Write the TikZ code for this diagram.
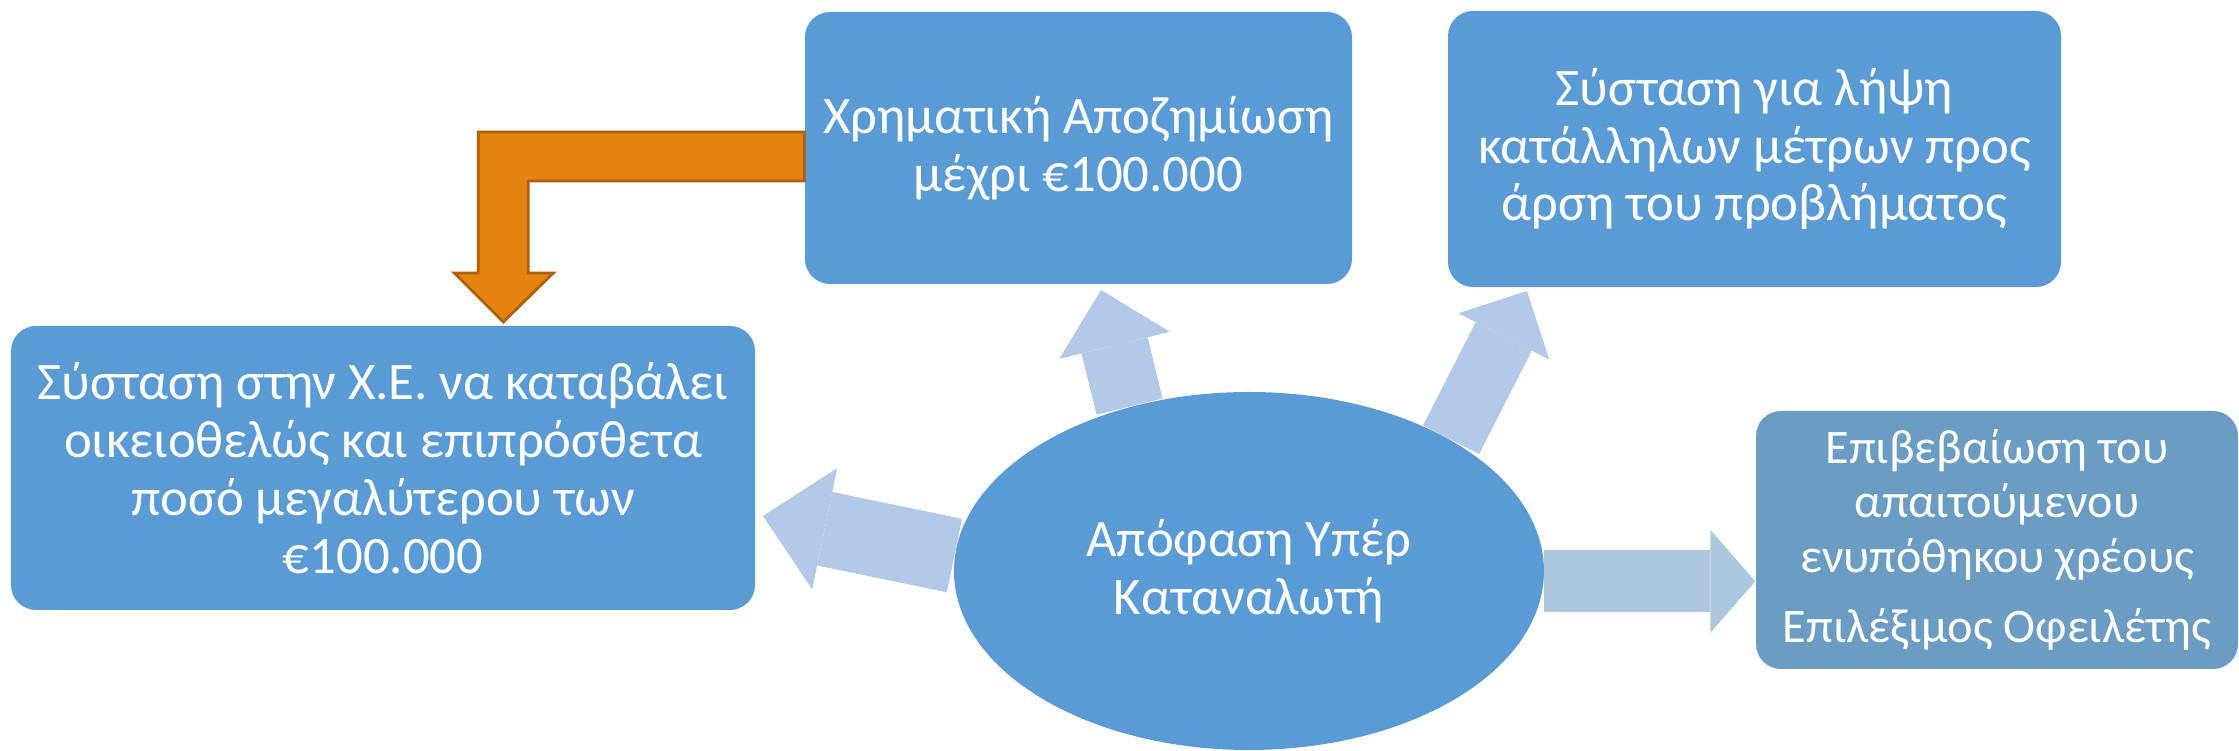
\documentclass[tikz,border=0pt]{standalone}
\usepackage{fontspec}
\setmainfont{Carlito}
\usetikzlibrary{shapes.geometric,arrows.meta,backgrounds}
\definecolor{boxblue}{HTML}{5B9BD5}
\definecolor{greyblue}{HTML}{6A9CC4}
\definecolor{paleblue}{HTML}{B4C9E7}
\definecolor{palegrey}{HTML}{ADC8DE}
\definecolor{orangefill}{HTML}{E48212}
\definecolor{orangeline}{HTML}{B0600C}
\begin{document}
\begin{tikzpicture}[
  box/.style={rectangle, rounded corners=0.25cm, fill=boxblue, text=white, align=center, inner sep=0pt, font=\fontsize{15}{16.5}\selectfont},
  fat/.style n args={3}{color=paleblue, line width=#1, -{Triangle[width=#2,length=#3,line width=0pt]}},
  bent/.style={fill=orangefill, draw=orangeline, line width=0.8pt}
]
\useasboundingbox (0,0) rectangle (22.39,7.51);
% the five boxes
\node[box, minimum width=7.44cm, minimum height=2.84cm] (offer) at (3.83,2.83) {Σύσταση στην Χ.Ε. να καταβάλει\\ οικειοθελώς και επιπρόσθετα\\ ποσό μεγαλύτερου των\\ €100.000};
\node[box, minimum width=5.47cm, minimum height=2.72cm] (comp) at (10.785,6.03) {Χρηματική Αποζημίωση\\ μέχρι €100.000};
\node[box, minimum width=6.13cm, minimum height=2.76cm] (measures) at (17.545,6.02) {Σύσταση για λήψη\\ κατάλληλων μέτρων προς\\ άρση του προβλήματος};
\node[box, fill=greyblue, minimum width=4.82cm, minimum height=2.58cm, font=\fontsize{13.7}{15.5}\selectfont] (debt) at (19.97,2.11) {Επιβεβαίωση του\\ απαιτούμενου\\ ενυπόθηκου χρέους\\[4.5pt] Επιλέξιμος Οφειλέτης};
\node[box, ellipse, minimum width=5.9cm, minimum height=3.58cm] (ruling) at (12.49,1.80) {Απόφαση Υπέρ\\ Καταναλωτή};
% arrow ends
\coordinate (toOffer) at (7.63,2.35);
\coordinate (toComp) at (11.01,4.61);
\coordinate (toMeasures) at (15.27,4.60);
\begin{scope}[on background layer]
\draw[fat={0.75cm}{1.24cm}{0.63cm}] (ruling.177) -- (toOffer);
\draw[fat={0.68cm}{1.14cm}{0.57cm}] (ruling.126) -- (toComp);
\draw[fat={0.63cm}{1.02cm}{0.51cm}] (ruling.33) -- (toMeasures);
\draw[fat={0.62cm}{1.03cm}{0.45cm}, color=palegrey] (ruling.-2) -- (ruling.-2 -| debt.west);
\end{scope}
% orange bent arrow
\draw[bent] ([yshift=1.6mm]comp.west) -- ++(-3.26,0) -- ++(0,-1.41) -- ++(-0.24,0) -- ++(0.49,-0.49) -- ++(0.50,0.49) -- ++(-0.25,0) -- ++(0,0.92) -- ++(2.76,0) -- cycle;
\end{tikzpicture}
\end{document}
